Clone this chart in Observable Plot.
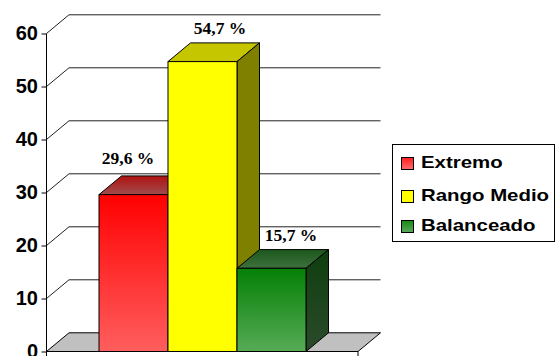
<!DOCTYPE html>
<html>
<head>
<meta charset="utf-8">
<script src="https://cdn.jsdelivr.net/npm/d3@7"></script>
<script src="https://cdn.jsdelivr.net/npm/@observablehq/plot@0.6"></script>
<style>
  body { margin: 0; background: #fff; }
  #wrap { position: relative; width: 556px; height: 356px; overflow: hidden; background: #fff; }
  #legend { position: absolute; left: 392px; top: 144px; width: 161px; height: 96px; border: 1px solid #000; background: #fff;
            font-family: "Liberation Sans", Arial, sans-serif; font-weight: bold; font-size: 17px; color: #000; }
  .item { position: absolute; left: 8px; height: 20px; display: flex; align-items: center; }
  .sw { width: 11px; height: 11px; border: 1px solid #000; margin-right: 7px; flex: none; }
  .lbl { display: inline-block; transform: scaleX(1.2); transform-origin: left center; white-space: nowrap; }
</style>
</head>
<body>
<div id="wrap"></div>
<script>
// ---- data ----
const categories = ["Extremo", "Rango Medio", "Balanceado"];
const values = [29.6, 54.7, 15.7];
const yTicks = [0, 10, 20, 30, 40, 50, 60];
const data = categories.map((c, i) => ({
  category: c,
  value: values[i],
  label: values[i].toFixed(1).replace(".", ",") + " %"
}));

// ---- styles ----
const DX = 22.5, DY = 18.7; // 3D depth offset in pixels
const styles = {
  "Extremo":     {front: ["#ff0000", "#ff5e5e"], top: ["#b01212", "#a04c4c"], side: ["#800000", "#803030"], sw: ["#ff2020", "#ff6a6a"]},
  "Rango Medio": {front: ["#ffff00", "#ffff00"], top: ["#c6c600", "#c6c600"], side: ["#808000", "#808000"], sw: ["#ffff00", "#ffff00"]},
  "Balanceado":  {front: ["#058005", "#56ab56"], top: ["#1c581c", "#3e703e"], side: ["#0e3e0e", "#2b4b2b"], sw: ["#1a8a1a", "#58a858"]}
};
const gid = (c, f) => "g-" + categories.indexOf(c) + "-" + f;

function scene(index, scales, vals, dims) {
  const x = scales.x, y = scales.y;
  const bw = typeof x.bandwidth === "function" ? x.bandwidth() : x.bandwidth;
  const x0 = dims.marginLeft, x1 = dims.width - dims.marginRight;
  const y0 = y(0);
  const g = d3.create("svg:g");
  const defs = g.append("defs");
  for (const c of categories) {
    for (const f of ["front", "top", "side"]) {
      const lg = defs.append("linearGradient").attr("id", gid(c, f))
        .attr("x1", 0).attr("y1", 0).attr("x2", 0).attr("y2", 1);
      lg.append("stop").attr("offset", "0%").attr("stop-color", styles[c][f][0]);
      lg.append("stop").attr("offset", "100%").attr("stop-color", styles[c][f][1]);
    }
  }
  const line = (ax, ay, bx, by, col = "#000") =>
    g.append("line").attr("x1", ax).attr("y1", ay).attr("x2", bx).attr("y2", by)
      .attr("stroke", col).attr("stroke-width", 1);
  // walls: gridlines
  for (const t of yTicks) {
    if (t === 0) continue;
    const yy = y(t);
    line(x0, yy, x0 + DX, yy - DY, "#222");
    line(x0 + DX, yy - DY, x1 + DX, yy - DY, "#222");
  }
  // floor
  g.append("polygon")
    .attr("points", [[x0, y0], [x1, y0], [x1 + DX, y0 - DY], [x0 + DX, y0 - DY]].map(p => p.join(",")).join(" "))
    .attr("fill", "#c0c0c0").attr("stroke", "#000").attr("stroke-width", 1);
  // axis line
  line(x0, y(60), x0, y0);
  // x ticks
  line(x0, y0, x0, y0 + 5);
  line(x1, y0, x1, y0 + 5);
  // bars
  for (const d of data) {
    const bx0 = x(d.category), bx1 = bx0 + bw, by = y(d.value);
    const c = d.category;
    const pts = a => a.map(p => p.join(",")).join(" ");
    g.append("polygon").attr("points", pts([[bx0, by], [bx1, by], [bx1 + DX, by - DY], [bx0 + DX, by - DY]]))
      .attr("fill", `url(#${gid(c, "top")})`).attr("stroke", "#000").attr("stroke-width", 1).attr("stroke-linejoin", "round");
    g.append("polygon").attr("points", pts([[bx1, by], [bx1 + DX, by - DY], [bx1 + DX, y0 - DY], [bx1, y0]]))
      .attr("fill", `url(#${gid(c, "side")})`).attr("stroke", "#000").attr("stroke-width", 1).attr("stroke-linejoin", "round");
    g.append("rect").attr("x", bx0).attr("y", by).attr("width", bw).attr("height", y0 - by)
      .attr("fill", `url(#${gid(c, "front")})`).attr("stroke", "#000").attr("stroke-width", 1);
  }
  return g.node();
}

const labelFont = {fontFamily: "'Liberation Serif', 'Times New Roman', serif", fontWeight: "bold", fontSize: 17.5, textAnchor: "middle", lineAnchor: "bottom", fill: "#000"};
const offsets = [[-6, -31], [17, -28], [19, -28]];

const chart = Plot.plot({
  width: 556,
  height: 356,
  marginLeft: 46.5,
  marginRight: 198,
  marginTop: 33.5,
  marginBottom: 4.5,
  style: {background: "#fff", overflow: "visible"},
  x: {type: "band", domain: categories, paddingInner: 0, paddingOuter: 0.755, align: 0.5, axis: null},
  y: {domain: [0, 60], axis: null},
  marks: [
    scene,
    Plot.axisY({ticks: yTicks, label: null, tickSize: 5, tickPadding: 4, fontSize: 20, fontWeight: "bold",
                fontFamily: "'Liberation Sans', Arial, sans-serif", stroke: "#000", color: "#000"}),
    ...categories.map((c, i) => Plot.text(data.filter(d => d.category === c),
      {x: "category", y: "value", text: "label", dx: offsets[i][0], dy: offsets[i][1], ...labelFont}))
  ]
});
const wrap = document.getElementById("wrap");
wrap.appendChild(chart);

// legend
const legend = document.createElement("div");
legend.id = "legend";
const tops = [8, 41, 71];
categories.forEach((c, i) => {
  const it = document.createElement("div");
  it.className = "item";
  it.style.top = tops[i] + "px";
  const sw = document.createElement("span");
  sw.className = "sw";
  sw.style.background = `linear-gradient(${styles[c].sw[0]}, ${styles[c].sw[1]})`;
  const lb = document.createElement("span");
  lb.className = "lbl";
  lb.textContent = c;
  it.appendChild(sw); it.appendChild(lb);
  legend.appendChild(it);
});
wrap.appendChild(legend);
</script>
</body>
</html>
